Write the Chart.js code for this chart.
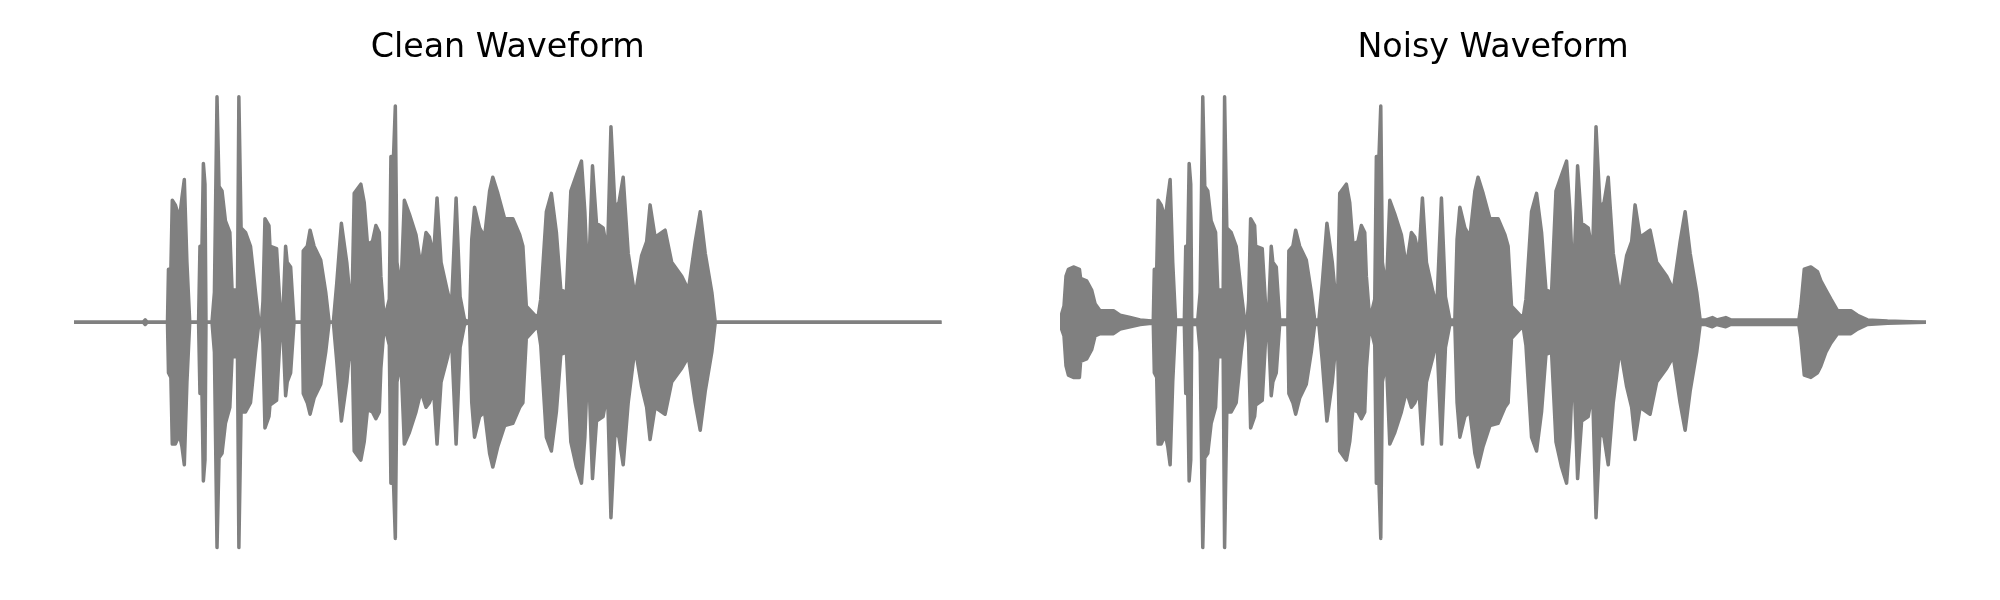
<!DOCTYPE html>
<html>
<head>
<meta charset="utf-8">
<script src="https://cdn.jsdelivr.net/npm/chart.js@4/dist/chart.umd.min.js"></script>
<style>
  html, body { margin: 0; padding: 0; background: #fff; }
  .wrap { position: relative; width: 2000px; height: 600px; }
  canvas { position: absolute; top: 0; }
  #chart-clean { left: 0; }
  #chart-noisy { left: 1000px; }
</style>
</head>
<body>
<div class="wrap">
  <canvas id="chart-clean" width="1000" height="600"></canvas>
  <canvas id="chart-noisy" width="1000" height="600"></canvas>
</div>
<script>
'use strict';

/* ── DATA : enveloppe (temps en ms, amplitude normalisée) ── */
const DURATION = 4325;

const cleanTime = [
  0, 345, 355, 365, 466, 471, 483, 490, 505, 526, 538, 550, 563, 577, 621, 628, 638, 645, 653, 658,
  688, 700, 713, 723, 738, 755, 777, 788, 815, 822, 833, 855, 880, 905, 922, 935, 942, 952, 972, 977,
  1010, 1027, 1043, 1055, 1063, 1080, 1097, 1138, 1143, 1163, 1177, 1197, 1230, 1255, 1272, 1293, 1310, 1333, 1360, 1380,
  1388, 1397, 1430, 1447, 1463, 1488, 1505, 1522, 1530, 1547, 1572, 1580, 1593, 1602, 1610, 1630, 1647, 1672, 1705, 1730,
  1755, 1772, 1793, 1810, 1830, 1863, 1882, 1905, 1925, 1947, 1972, 1983, 1997, 2022, 2047, 2072, 2088, 2113, 2147, 2188,
  2222, 2238, 2255, 2297, 2313, 2327, 2355, 2380, 2405, 2427, 2455, 2477, 2505, 2530, 2547, 2563, 2585, 2605, 2638, 2660,
  2677, 2697, 2717, 2738, 2763, 2797, 2830, 2855, 2872, 2897, 2947, 2980, 3030, 3063, 3097, 3122, 3147, 3180, 3197, 4325,
];
const cleanUpper = [
  0, 0, 0.01, 0, 0, 0.23, 0.23, 0.53, 0.51, 0.45, 0.54, 0.62, 0.26, 0, 0, 0.33, 0.33, 0.69, 0.60, 0,
  0, 0.13, 0.98, 0.59, 0.57, 0.44, 0.39, 0.14, 0.14, 0.98, 0.41, 0.39, 0.33, 0.13, 0, 0, 0.09, 0.45, 0.42, 0.33,
  0.32, 0.07, 0.07, 0.33, 0.26, 0.24, 0, 0, 0.31, 0.33, 0.40, 0.33, 0.27, 0.13, 0, 0, 0.17, 0.43, 0.26, 0.07,
  0.17, 0.56, 0.60, 0.52, 0.34, 0.35, 0.42, 0.39, 0.20, 0.01, 0.10, 0.72, 0.72, 0.94, 0.26, 0.14, 0.53, 0.47, 0.38, 0.24,
  0.39, 0.37, 0.29, 0.54, 0.26, 0.13, 0.07, 0.54, 0.11, 0.01, 0, 0.36, 0.50, 0.41, 0.37, 0.57, 0.63, 0.56, 0.45, 0.45,
  0.38, 0.33, 0.07, 0.03, 0.02, 0.10, 0.48, 0.56, 0.39, 0.14, 0.13, 0.57, 0.64, 0.70, 0.48, 0.14, 0.68, 0.43, 0.41, 0.30,
  0.85, 0.50, 0.52, 0.63, 0.30, 0.11, 0.29, 0.35, 0.51, 0.37, 0.40, 0.26, 0.20, 0.14, 0.35, 0.48, 0.30, 0.13, 0, 0,
];
const cleanLower = [
  0, 0, -0.01, 0, 0, -0.22, -0.24, -0.53, -0.53, -0.49, -0.54, -0.62, -0.26, 0, 0, -0.31, -0.31, -0.69, -0.60, 0,
  0, -0.13, -0.98, -0.59, -0.57, -0.44, -0.37, -0.15, -0.15, -0.98, -0.39, -0.39, -0.35, -0.13, 0, 0, -0.09, -0.46, -0.41, -0.36,
  -0.34, -0.07, -0.07, -0.32, -0.26, -0.22, 0, 0, -0.31, -0.35, -0.40, -0.33, -0.27, -0.13, 0, 0, -0.17, -0.43, -0.26, -0.07,
  -0.17, -0.56, -0.60, -0.52, -0.38, -0.39, -0.42, -0.39, -0.20, -0.01, -0.10, -0.70, -0.70, -0.94, -0.26, -0.17, -0.53, -0.48, -0.39, -0.30,
  -0.37, -0.35, -0.30, -0.53, -0.26, -0.15, -0.07, -0.53, -0.11, -0.01, 0, -0.35, -0.50, -0.41, -0.39, -0.57, -0.63, -0.54, -0.45, -0.44,
  -0.37, -0.35, -0.07, -0.03, -0.02, -0.10, -0.50, -0.56, -0.39, -0.14, -0.13, -0.52, -0.63, -0.70, -0.50, -0.14, -0.68, -0.43, -0.41, -0.30,
  -0.85, -0.48, -0.50, -0.62, -0.35, -0.11, -0.28, -0.37, -0.51, -0.37, -0.40, -0.26, -0.20, -0.15, -0.35, -0.47, -0.30, -0.13, 0, 0,
];

/* bruit ajouté : bouffée au début et à la fin, plancher entre les mots */
const noiseHeadTime  = [0, 20, 30, 42, 67, 97, 103, 133, 158, 175, 200, 233, 267, 300, 350, 400, 458];
const noiseHeadUpper = [0.01, 0.07, 0.20, 0.23, 0.24, 0.23, 0.19, 0.18, 0.14, 0.08, 0.05, 0.05, 0.05, 0.03, 0.02, 0.01, 0.005];
const noiseHeadLower = [-0.01, -0.06, -0.19, -0.23, -0.24, -0.24, -0.17, -0.16, -0.12, -0.06, -0.05, -0.05, -0.05, -0.03, -0.02, -0.01, -0.005];

const noiseTailTime  = [3225, 3258, 3280, 3325, 3350, 3690, 3700, 3717, 3750, 3783, 3800, 3825, 3850, 3883, 3950, 3983, 4033, 4133, 4325];
const noiseTailUpper = [0.01, 0.02, 0.01, 0.02, 0.01, 0.01, 0.07, 0.23, 0.24, 0.22, 0.18, 0.14, 0.10, 0.05, 0.05, 0.03, 0.01, 0.005, 0];
const noiseTailLower = [-0.01, -0.02, -0.01, -0.02, -0.01, -0.01, -0.07, -0.23, -0.24, -0.22, -0.19, -0.13, -0.09, -0.05, -0.05, -0.03, -0.01, -0.005, 0];

const NOISE_FLOOR  = 0.01;
const SPEECH_START = 466;
const SPEECH_END   = 3197;

/* ── BUILD ── */
const toPoints = (xs, ys) => xs.map((x, i) => ({ x, y: ys[i] }));

function noisySeries(clean, head, tail, sign) {
  const core = [];
  cleanTime.forEach((t, i) => {
    if (t < SPEECH_START || t > SPEECH_END) return;
    const v = clean[i];
    core.push({ x: t, y: Math.abs(v) < NOISE_FLOOR ? sign * NOISE_FLOOR : v });
  });
  return [
    ...toPoints(noiseHeadTime, head),
    ...core,
    ...toPoints(noiseTailTime, tail),
  ];
}

const GREY = '#808080';

function waveChart(id, title, upper, lower, pad) {
  const ctx = document.getElementById(id).getContext('2d');
  const line = {
    borderColor: GREY,
    borderWidth: 3.5,
    borderJoinStyle: 'round',
    borderCapStyle: 'round',
    pointRadius: 0,
    tension: 0,
  };
  return new Chart(ctx, {
    type: 'line',
    data: {
      datasets: [
        { ...line, data: upper, fill: false },
        { ...line, data: lower, fill: '-1', backgroundColor: GREY },
      ],
    },
    options: {
      responsive: false,
      animation: false,
      layout: { padding: pad },
      plugins: {
        legend: { display: false },
        tooltip: { enabled: false },
        title: {
          display: true,
          text: title,
          color: '#000',
          font: { family: 'DejaVu Sans', size: 33.3, weight: 'normal' },
          padding: { top: 28, bottom: 24.2 },
        },
      },
      scales: {
        x: { type: 'linear', min: 0, max: DURATION, display: false },
        y: { min: -1, max: 1, display: false },
      },
    },
  });
}

/* ── INIT ── */
waveChart('chart-clean', 'Clean Waveform',
  toPoints(cleanTime, cleanUpper), toPoints(cleanTime, cleanLower),
  { left: 74, right: 58.5, top: 0, bottom: 47.8 });

waveChart('chart-noisy', 'Noisy Waveform',
  noisySeries(cleanUpper, noiseHeadUpper, noiseTailUpper, 1),
  noisySeries(cleanLower, noiseHeadLower, noiseTailLower, -1),
  { left: 60, right: 74, top: 0, bottom: 47.8 });
</script>
</body>
</html>
